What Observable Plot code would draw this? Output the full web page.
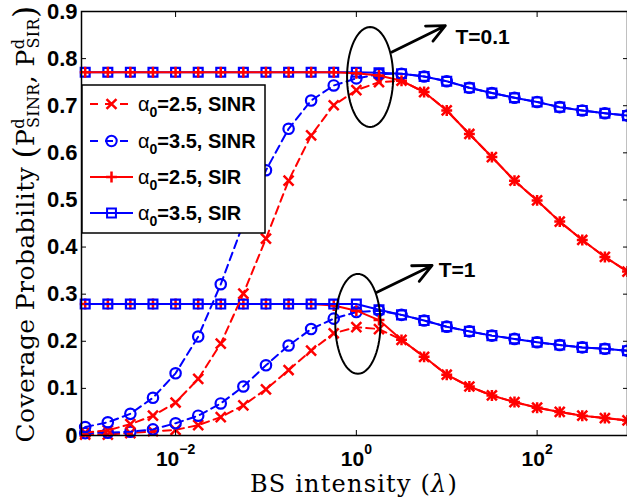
<!DOCTYPE html>
<html><head><meta charset="utf-8">
<script src="https://cdn.jsdelivr.net/npm/d3@7"></script>
<script src="https://cdn.jsdelivr.net/npm/@observablehq/plot@0.6"></script>
<style>body{margin:0;background:#fff} svg{display:block}</style>
</head><body><div id="chart"></div>
<script>
// ---- data ----
const lambda = [0.001, 0.00178, 0.00316, 0.00562, 0.01, 0.0178, 0.0316, 0.0562, 0.1, 0.178, 0.316, 0.562, 1, 1.78, 3.16, 5.62, 10, 17.8, 31.6, 56.2, 100, 178, 316, 562, 1000];
// T = 0.1
const sinr25_T01 = [0.006, 0.011, 0.024, 0.042, 0.070, 0.120, 0.195, 0.301, 0.418, 0.541, 0.637, 0.701, 0.733, 0.750, 0.753, 0.729, 0.690, 0.640, 0.591, 0.541, 0.499, 0.454, 0.415, 0.379, 0.348];
const sinr35_T01 = [0.018, 0.028, 0.046, 0.080, 0.132, 0.210, 0.321, 0.450, 0.563, 0.651, 0.711, 0.743, 0.758, 0.767, 0.768, 0.762, 0.752, 0.738, 0.727, 0.717, 0.708, 0.697, 0.690, 0.684, 0.679];
const sir25_T01  = [0.771, 0.771, 0.771, 0.771, 0.771, 0.771, 0.771, 0.771, 0.771, 0.771, 0.771, 0.771, 0.769, 0.764, 0.753, 0.729, 0.690, 0.640, 0.591, 0.541, 0.499, 0.454, 0.415, 0.379, 0.348];
const sir35_T01  = [0.771, 0.771, 0.771, 0.771, 0.771, 0.771, 0.771, 0.771, 0.771, 0.771, 0.771, 0.771, 0.771, 0.770, 0.768, 0.762, 0.752, 0.738, 0.727, 0.717, 0.708, 0.697, 0.690, 0.684, 0.679];
// T = 1
const sinr25_T1 = [0.002, 0.002, 0.005, 0.009, 0.012, 0.022, 0.039, 0.064, 0.098, 0.139, 0.180, 0.217, 0.230, 0.226, 0.203, 0.167, 0.129, 0.104, 0.085, 0.071, 0.059, 0.050, 0.042, 0.037, 0.032];
const sinr35_T1 = [0.005, 0.006, 0.008, 0.013, 0.026, 0.042, 0.068, 0.104, 0.149, 0.191, 0.226, 0.248, 0.262, 0.265, 0.256, 0.244, 0.231, 0.221, 0.212, 0.205, 0.198, 0.192, 0.187, 0.184, 0.180];
const sir25_T1  = [0.279, 0.279, 0.279, 0.279, 0.279, 0.279, 0.279, 0.279, 0.279, 0.279, 0.279, 0.276, 0.265, 0.245, 0.203, 0.167, 0.129, 0.104, 0.085, 0.071, 0.059, 0.050, 0.042, 0.037, 0.032];
const sir35_T1  = [0.279, 0.279, 0.279, 0.279, 0.279, 0.279, 0.279, 0.279, 0.279, 0.279, 0.279, 0.279, 0.279, 0.267, 0.256, 0.244, 0.231, 0.221, 0.212, 0.205, 0.198, 0.192, 0.187, 0.184, 0.180];

const legendLabels = ["=2.5, SINR", "=3.5, SINR", "=2.5, SIR", "=3.5, SIR"];
const xTicks = [0.01, 1, 100];
const yTicks = [0, 0.1, 0.2, 0.3, 0.4, 0.5, 0.6, 0.7, 0.8, 0.9];

// annotations (data coordinates)
const annotLabels = ["T=0.1", "T=1"];
const annotLabelLam = [12.5, 8.15];
const annotLabelP = [0.845, 0.350];
const ellipseLam = [1.42, 1.04];      // centre
const ellipseP = [0.761, 0.237];
const ellipseHalfDecades = [0.255, 0.25];
const ellipseHalfP = [0.106, 0.106];
const arrowFromLam = [2.48, 1.69], arrowFromP = [0.814, 0.304];
const arrowToLam = [9.66, 6.89], arrowToP = [0.870, 0.361];

// ---- styles ----
const RED = "#ff0000", BLUE = "#0000ff";
const DASH = "8,5";
const styleSINR25 = {stroke: RED, dash: DASH, symbol: "times", r: 4.6};
const styleSINR35 = {stroke: BLUE, dash: DASH, symbol: "circle", r: 5.2};
const styleSIR25 = {stroke: RED, dash: null, symbol: "plus", r: 3.6};
const styleSIR35 = {stroke: BLUE, dash: null, symbol: "square", r: 5};

const drawOrder = [
  [sinr25_T1, styleSINR25], [sinr35_T1, styleSINR35], [sir25_T1, styleSIR25], [sir35_T1, styleSIR35],
  [sinr25_T01, styleSINR25], [sinr35_T01, styleSINR35], [sir35_T01, styleSIR35], [sir25_T01, styleSIR25]
];

const seriesMarks = drawOrder.flatMap(([vals, s]) => {
  const rows = vals.map((p, i) => ({lam: lambda[i], p}));
  return [
    Plot.line(rows, {x: "lam", y: "p", stroke: s.stroke, strokeWidth: 2, strokeDasharray: s.dash}),
    Plot.dot(rows, {x: "lam", y: "p", symbol: () => s.symbol, r: s.r, stroke: s.stroke, strokeWidth: s.symbol === "times" || s.symbol === "plus" ? 2.5 : 2.2, fill: "none"})
  ];
});

// ellipse outlines
const ellipseRows = [];
ellipseLam.forEach((c, k) => {
  for (let i = 0; i <= 72; i++) {
    const t = (i / 72) * 2 * Math.PI;
    ellipseRows.push({id: k, lam: Math.pow(10, Math.log10(c) + ellipseHalfDecades[k] * Math.cos(t)), p: ellipseP[k] + ellipseHalfP[k] * Math.sin(t)});
  }
});
const arrows = arrowFromLam.map((d, i) => ({x1: d, y1: arrowFromP[i], x2: arrowToLam[i], y2: arrowToP[i]}));
const labels = annotLabels.map((t, i) => ({t, lam: annotLabelLam[i], p: annotLabelP[i]}));

const FONT = "'Liberation Sans', Arial, Helvetica, sans-serif";
const SERIF = "'DejaVu Serif', serif";

const plot = Plot.plot({
  width: 627, height: 504,
  marginLeft: 81, marginRight: 0, marginTop: 11, marginBottom: 69,
  x: {type: "log", domain: [0.00091, 1000]},
  y: {domain: [0, 0.9]},
  style: {fontFamily: FONT, background: "white", color: "black"},
  marks: [
    ...seriesMarks,
    Plot.line(ellipseRows, {x: "lam", y: "p", z: "id", stroke: "black", strokeWidth: 2}),
    Plot.arrow(arrows, {x1: "x1", y1: "y1", x2: "x2", y2: "y2", stroke: "black", strokeWidth: 2.8, headLength: 13, headAngle: 50}),
    Plot.text(labels, {x: "lam", y: "p", text: "t", textAnchor: "start", fontSize: 21, fontWeight: "bold", fill: "black"}),
    Plot.frame({stroke: "black", strokeWidth: 1.5}),
    Plot.axisY({ticks: yTicks, anchor: "left", tickSize: -5, tickPadding: 9, tickFormat: d => d === 0 ? "0" : d.toFixed(1), fontSize: 22, fontWeight: "bold", label: null, strokeWidth: 1}),
    Plot.axisY({ticks: yTicks, anchor: "right", tickSize: -5, tickFormat: () => "", label: null, strokeWidth: 1}),
    Plot.axisX({ticks: xTicks, anchor: "bottom", tickSize: -5, tickPadding: 21, tickFormat: d => String(Math.round(Math.log10(d))), fontSize: 21, fontWeight: "bold", label: null, strokeWidth: 1}),
    Plot.axisX({ticks: xTicks, anchor: "top", tickSize: -5, tickFormat: () => "", label: null, strokeWidth: 1})
  ]
});
document.getElementById("chart").appendChild(plot);

const svg = d3.select(plot);

// superscript powers of ten on the bottom x tick labels
svg.selectAll('g[aria-label="x-axis tick label"] text').each(function () {
  const raw = this.textContent;
  if (!raw) return;
  const e = raw.replace("-", "\u2212");
  const t = d3.select(this);
  t.text("");
  t.append("tspan").text("10");
  t.append("tspan").attr("font-size", 14).attr("dy", -12).text(e);
});

// legend
const lg = svg.append("g").attr("text-anchor", "start");
lg.append("rect").attr("x", 82).attr("y", 85).attr("width", 183).attr("height", 148)
  .attr("fill", "white").attr("stroke", "black").attr("stroke-width", 1.5);
const legendStyles = [styleSINR25, styleSINR35, styleSIR25, styleSIR35];
const rowY = [104, 141, 177, 213];
const symMap = {times: d3.symbolTimes, circle: d3.symbolCircle, plus: d3.symbolPlus, square: d3.symbolSquare};
legendStyles.forEach((s, i) => {
  const y = rowY[i];
  lg.append("line").attr("x1", 90).attr("x2", 133).attr("y1", y).attr("y2", y)
    .attr("stroke", s.stroke).attr("stroke-width", 2).attr("stroke-dasharray", s.dash ? "8,7" : null);
  lg.append("path").attr("d", d3.symbol(symMap[s.symbol], Math.PI * s.r * s.r)())
    .attr("transform", `translate(111.5,${y})`).attr("fill", "none").attr("stroke", s.stroke)
    .attr("stroke-width", s.symbol === "times" || s.symbol === "plus" ? 2.5 : 2);
  const t = lg.append("text").attr("x", 138).attr("y", y + 7).attr("text-anchor", "start")
    .attr("font-family", FONT).attr("font-size", 20).attr("fill", "black");
  t.append("tspan").attr("font-weight", "normal").text("\u03b1");
  t.append("tspan").attr("font-weight", "bold").attr("font-size", 14).attr("dy", 6).text("0");
  t.append("tspan").attr("font-weight", "bold").attr("dy", -6).text(legendLabels[i]);
});

// x axis label
const xl = svg.append("text").attr("x", 354).attr("y", 492).attr("text-anchor", "middle")
  .attr("font-family", SERIF).attr("font-size", 24).attr("letter-spacing", 1.2).attr("fill", "black");
xl.append("tspan").text("BS intensity ");
xl.append("tspan").text("(");
xl.append("tspan").attr("font-style", "italic").text("\u03bb");
xl.append("tspan").text(")");

// y axis label
const yl = svg.append("text").attr("transform", "translate(34,224) rotate(-90)").attr("text-anchor", "middle")
  .attr("font-family", SERIF).attr("font-size", 25).attr("letter-spacing", 0.4).attr("fill", "black");
yl.append("tspan").text("Coverage Probability ");
yl.append("tspan").attr("font-size", 31).attr("dy", 2).text("(");
yl.append("tspan").attr("dy", -2).text("P");
yl.append("tspan").attr("font-size", 16).attr("dy", -10).text("d");
yl.append("tspan").attr("font-size", 16).attr("dx", -10).attr("dy", 15).text("SINR");
yl.append("tspan").attr("dy", -5).text(", P");
yl.append("tspan").attr("font-size", 16).attr("dy", -10).text("d");
yl.append("tspan").attr("font-size", 16).attr("dx", -10).attr("dy", 15).text("SIR");
yl.append("tspan").attr("font-size", 31).attr("dy", -3).text(")");
</script>
</body></html>
